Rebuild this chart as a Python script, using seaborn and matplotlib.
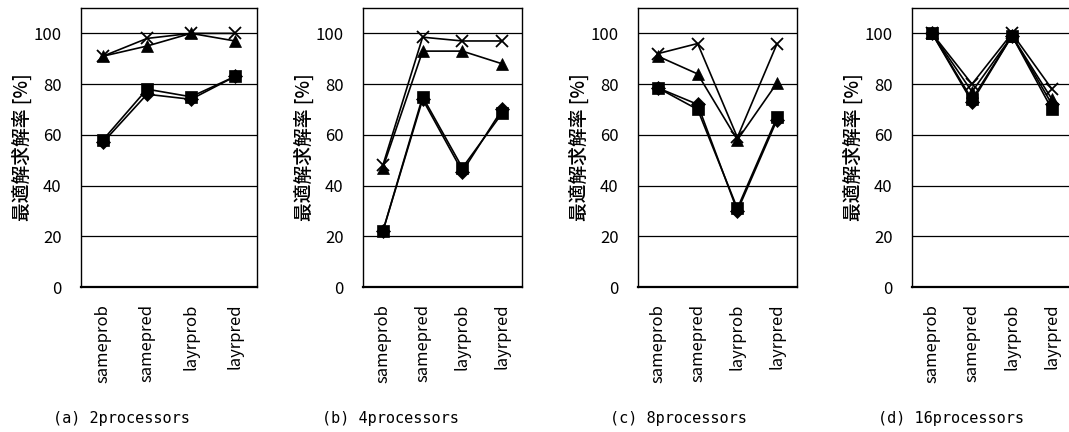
import matplotlib
matplotlib.use('Agg')
import matplotlib.pyplot as plt
import seaborn as sns
import pandas as pd

# カテゴリと各系列の値
categories = ['sameprob', 'samepred', 'layrprob', 'layrpred']
panel_titles = ['(a) 2processors', '(b) 4processors', '(c) 8processors', '(d) 16processors']

diamond_vals = [[57, 76, 74, 83], [22, 74, 45.5, 70], [78.5, 72, 30, 66], [100, 73, 99, 72]]
square_vals = [[58, 78, 75, 83], [22, 75, 47, 68.5], [78.5, 70, 31, 67], [100, 74, 99, 70]]
triangle_vals = [[91, 95, 100, 97], [47, 93, 93, 88], [91, 84, 58, 80.5], [100, 77, 99, 74]]
cross_vals = [[91, 98, 100, 100], [48, 98.5, 97, 97], [92, 96, 59, 96], [100, 80, 100, 78]]

series = [('diamond', diamond_vals, 'D', 7.5),
          ('square', square_vals, 's', 8.5),
          ('triangle', triangle_vals, '^', 8.5),
          ('cross', cross_vals, 'x', 9)]

sns.set_style('white')
plt.rcParams['font.family'] = ['Noto Sans CJK JP', 'DejaVu Sans']
plt.rcParams['text.color'] = 'black'
plt.rcParams['xtick.color'] = 'black'
plt.rcParams['ytick.color'] = 'black'
plt.rcParams['axes.labelcolor'] = 'black'

fig = plt.figure(figsize=(10.69, 4.32), dpi=100)
W, H = 1069, 432

# 各パネルの位置 (ピクセル)
boxes = [(81, 257), (363, 522), (638, 797), (912, 1072)]
caption_x = [121, 390, 678, 951]
top, bottom = 8, 287

for i, (x0, x1) in enumerate(boxes):
    ax = fig.add_axes([x0 / W, 1 - bottom / H, (x1 - x0) / W, (bottom - top) / H])
    for name, vals, mk, ms in series:
        df = pd.DataFrame({'cat': range(4), 'val': vals[i]})
        sns.lineplot(data=df, x='cat', y='val', ax=ax, color='black', lw=1.2,
                     marker=mk, markersize=ms, markeredgecolor='black',
                     markerfacecolor='black', markeredgewidth=1.3 if mk == 'x' else 0.5)
    ax.set_xlim(-0.5, 3.5)
    ax.set_ylim(0, 110)
    ax.set_yticks([0, 20, 40, 60, 80, 100])
    ax.set_xticks(range(4))
    ax.set_xticklabels(categories, rotation=90, fontsize=12)
    ax.set_xticks([0.5, 1.5, 2.5], minor=True)
    ax.tick_params(axis='x', which='major', length=0, pad=12)
    ax.tick_params(axis='x', which='minor', direction='in', length=5, width=1, color='black')
    ax.tick_params(axis='y', length=0, pad=14, labelsize=12)
    for yv in [20, 40, 60, 80, 100]:
        ax.axhline(yv, color='black', lw=0.9, zorder=0)
    for s in ax.spines.values():
        s.set_color('black')
        s.set_linewidth(1.0)
    ax.spines['bottom'].set_linewidth(1.6)
    ax.set_xlabel('')
    ax.set_ylabel('最適解求解率 [%]', fontsize=13.5, labelpad=1, fontweight='medium')
    fig.text(caption_x[i] / W, 1 - 418 / H, panel_titles[i], ha='center', va='center',
             fontsize=11, family='DejaVu Sans Mono')

fig.savefig('out.png', dpi=100)
